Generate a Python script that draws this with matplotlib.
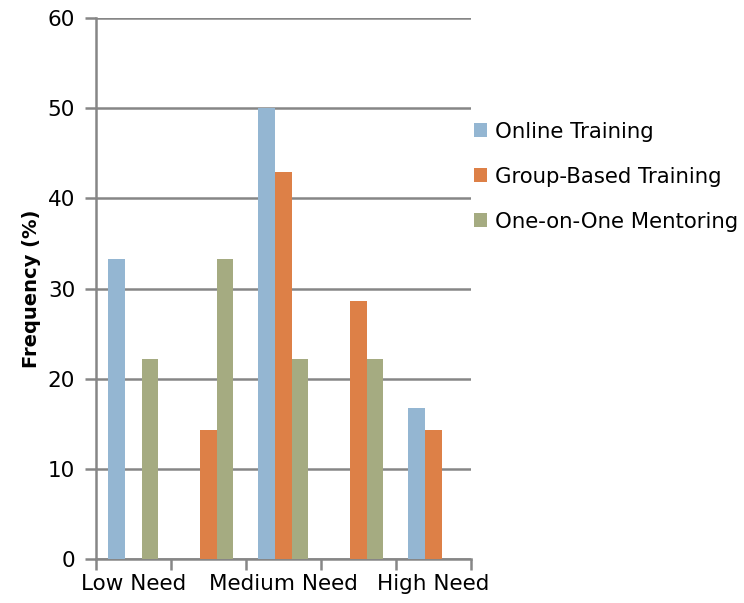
import numpy as np
import matplotlib.pyplot as plt

plt.rcParams['font.family'] = ['DejaVu Sans']

tick_labels = ["Low Need", "", "Medium Need", "", "High Need"]
series = ["Online Training", "Group-Based Training", "One-on-One Mentoring"]
online = [33.3, 0, 50.0, 0, 16.7]
group_based = [0, 14.3, 42.9, 28.6, 14.3]
mentoring = [22.2, 33.3, 22.2, 22.2, 0]
colors = ["#94B6D2", "#DD8047", "#A5AB81"]

fig = plt.figure(figsize=(7.44, 6.03), dpi=100)
ax = fig.add_axes([0.129, 0.073, 0.504, 0.897])

x = np.arange(len(tick_labels))
w = 2 / 9
for i, (name, vals) in enumerate(zip(series, [online, group_based, mentoring])):
    ax.bar(x + (i - 1) * w, vals, width=w, color=colors[i], label=name, zorder=3)

grid_c = "#868686"
ax.set_ylim(0, 60)
ax.set_yticks(range(0, 61, 10))
ax.set_xlim(-0.5, 4.5)
ax.yaxis.grid(True, color=grid_c, linewidth=1.8, zorder=0)
ax.set_axisbelow(True)

# category ticks sit on the boundaries between groups
ax.set_xticks(np.arange(-0.5, 5, 1))
ax.set_xticklabels([])
ax.set_xticks(x, minor=True)
ax.set_xticklabels(tick_labels, minor=True)
ax.tick_params(axis='x', which='minor', length=0, pad=11, labelsize=15.5)
ax.tick_params(axis='x', which='major', length=8, width=1.8, color=grid_c)
ax.tick_params(axis='y', length=8, width=1.8, color=grid_c, labelsize=15.5, pad=7)

for s in ['top', 'right']:
    ax.spines[s].set_visible(False)
for s in ['left', 'bottom']:
    ax.spines[s].set_color(grid_c)
    ax.spines[s].set_linewidth(1.8)

ax.set_ylabel("Frequency (%)", fontsize=14, fontweight='bold', labelpad=5)

fig.legend(loc='center left', bbox_to_anchor=(0.612, 0.707), frameon=False,
           fontsize=15.3, handlelength=0.61, handleheight=0.61, handletextpad=0.35,
           labelspacing=1.18)

fig.savefig("out.png", dpi=100)
